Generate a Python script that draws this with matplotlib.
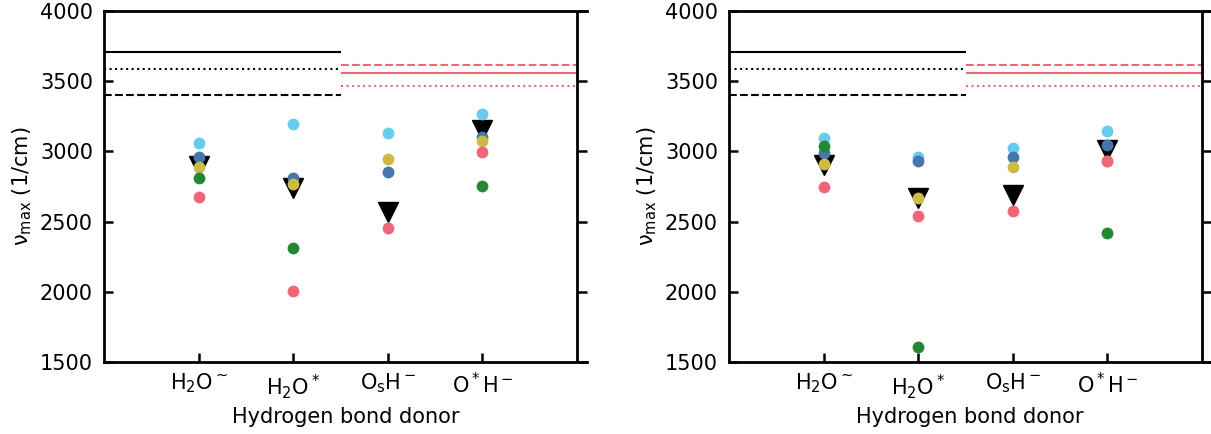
import matplotlib
matplotlib.use("Agg")
import matplotlib.pyplot as plt

categories = ["H$_2$O$^{\\sim}$", "H$_2$O$^*$", "O$_\\mathrm{s}$H$^-$", "O$^*$H$^-$"]

# left panel
left_triangle = [2895, 2740, 2566, 3150]
left_cyan = [3062, 3192, 3133, 3264]
left_blue = [2959, 2813, 2853, 3102]
left_yellow = [2886, 2770, 2948, 3073]
left_green = [2813, 2311, None, 2754]
left_pink = [2672, 2003, 2452, 2993]

# right panel
right_triangle = [2905, 2670, 2686, 3010]
right_cyan = [3095, 2960, 3024, 3142]
right_blue = [2988, 2931, 2957, 3047]
right_yellow = [2907, 2670, 2888, 2931]
right_green = [3038, 1609, None, 2418]
right_pink = [2744, 2539, 2578, 2931]

# reference lines
black_lines = [3707, 3584, 3400]
red_lines = [3613, 3560, 3468]
line_styles = ["--", "-", ":"]
black_styles = ["-", ":", "--"]

colors = {"cyan": "#66CCEE", "blue": "#4477AA", "yellow": "#CCBB44",
          "green": "#228833", "pink": "#EE6677"}

plt.rcParams["font.family"] = ["DejaVu Sans"]
plt.rcParams["mathtext.default"] = "regular"

fig = plt.figure(figsize=(12.11, 4.34), dpi=100)
ax1 = fig.add_axes([104/1211, 72/434, 482.5/1211, 351/434])
ax2 = fig.add_axes([729/1211, 72/434, 482.5/1211, 351/434])

def draw(ax, tri, series):
    x = list(range(len(categories)))
    for i, val in enumerate(tri):
        ax.plot(x[i], val, marker="v", color="black", ms=14, ls="none", zorder=3)
    for name, vals in series:
        for i, v in enumerate(vals):
            if v is not None:
                ax.plot(x[i], v, marker="o", color=colors[name], ms=8.5,
                        mew=0, ls="none", zorder=4)
    for y, s in zip(black_lines, black_styles):
        ax.hlines(y, -1, 1.5, colors="black", linestyles=s, lw=1.5, zorder=2)
    for y, s in zip(red_lines, line_styles):
        ax.hlines(y, 1.5, 4, colors=colors["pink"], linestyles=s, lw=1.5, zorder=2)
    ax.axvline(4, color="black", lw=2, zorder=5)
    ax.set_xlim(-1, 4.1)
    ax.set_ylim(1500, 4000)
    ax.set_yticks([1500, 2000, 2500, 3000, 3500, 4000])
    ax.set_xticks(x)
    ax.set_xticklabels(categories)
    ax.spines["right"].set_visible(False)
    for sp in ["left", "top", "bottom"]:
        ax.spines[sp].set_linewidth(2)
    ax.tick_params(axis="both", direction="in", length=6.5, width=1.8,
                   labelsize=15, pad=7)
    ax.tick_params(axis="y", right=True, pad=8)
    ax.set_ylabel("ν$_{max}$ (1/cm)", fontsize=15, labelpad=4)
    ax.set_xlabel("Hydrogen bond donor", fontsize=15, labelpad=5)

draw(ax1, left_triangle, [("cyan", left_cyan), ("blue", left_blue),
                          ("yellow", left_yellow), ("green", left_green),
                          ("pink", left_pink)])
draw(ax2, right_triangle, [("cyan", right_cyan), ("blue", right_blue),
                           ("yellow", right_yellow), ("green", right_green),
                           ("pink", right_pink)])

fig.savefig("out.png", dpi=100)
